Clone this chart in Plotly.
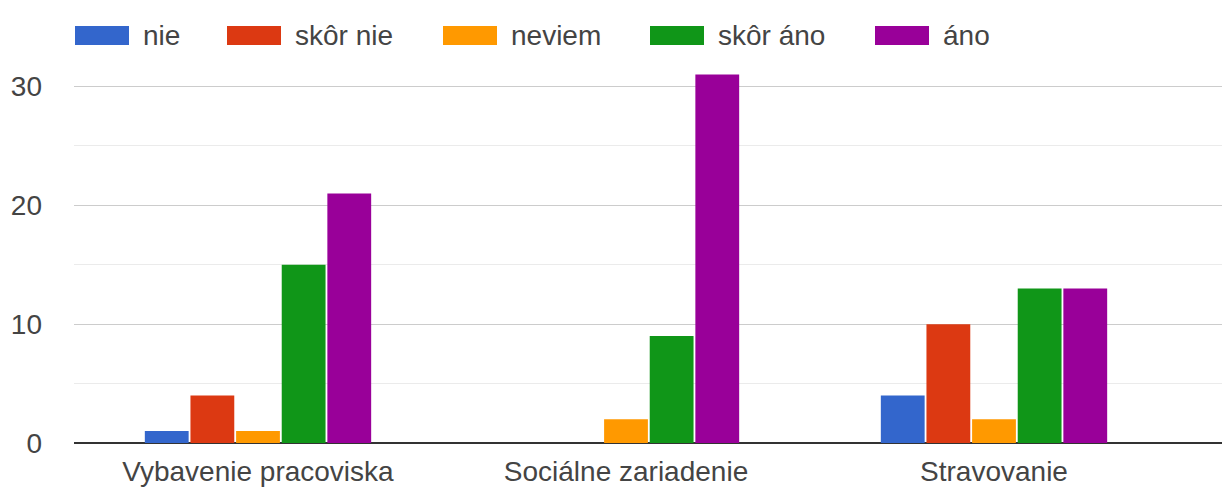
import plotly.graph_objects as go

categories = ["Vybavenie pracoviska", "Sociálne zariadenie", "Stravovanie"]
series_names = ["nie", "skôr nie", "neviem", "skôr áno", "áno"]
nie = [1, 0, 4]
skor_nie = [4, 0, 10]
neviem = [1, 2, 2]
skor_ano = [15, 9, 13]
ano = [21, 31, 13]
y_ticks = [0, 10, 20, 30]

colors = ["#3366cc", "#dc3912", "#ff9900", "#109618", "#990099"]
values = [nie, skor_nie, neviem, skor_ano, ano]

W, H = 1230, 491
OFF = 8  # page body margin
ML, MR, MT, MB = 66, 8, 18.5, 56
FONT = "Liberation Sans"
FS = 28
TXT = "#444444"

fig = go.Figure()
for name, vals, col in zip(series_names, values, colors):
    fig.add_trace(go.Bar(x=list(range(len(categories))), y=vals, name=name,
                         marker=dict(color=col, line=dict(width=0)),
                         showlegend=False))

pw = W - ML - MR
ph = H - MT - MB

def px_to_paper_x(px):
    return (px - OFF - ML) / pw

def px_to_paper_y(py):
    return (H - MB - (py - OFF)) / ph

# custom legend (Google Charts style wide swatches)
legend_x = [75, 227, 443, 650, 875]
legend_cy = 35
sw_w, sw_h = 54, 19
shapes = []
annotations = []
for lx, name, col in zip(legend_x, series_names, colors):
    shapes.append(dict(type="rect", xref="paper", yref="paper",
                       x0=px_to_paper_x(lx), x1=px_to_paper_x(lx + sw_w),
                       y0=px_to_paper_y(legend_cy + sw_h / 2), y1=px_to_paper_y(legend_cy - sw_h / 2),
                       fillcolor=col, line=dict(width=0), layer="above"))
    annotations.append(dict(text=name, xref="paper", yref="paper",
                            x=px_to_paper_x(lx + sw_w + 12), y=px_to_paper_y(legend_cy),
                            xanchor="left", yanchor="middle", showarrow=False,
                            bgcolor="white",
                            font=dict(family=FONT, size=FS, color=TXT)))

group_center_px = 994  # page px of third category centre
cat_px = 368
fig.update_layout(
    width=W, height=H,
    margin=dict(l=ML, r=MR, t=MT, b=MB, pad=0, autoexpand=False),
    paper_bgcolor="white", plot_bgcolor="white",
    barmode="group", bargap=0.38, bargroupgap=0.04,
    font=dict(family=FONT, size=FS, color=TXT),
    shapes=shapes, annotations=annotations,
    xaxis=dict(tickmode="array", tickvals=list(range(len(categories))), ticktext=categories,
               range=[-0.5, 2 + (W - group_center_px) / cat_px], showgrid=False, showline=False,
               zeroline=False, ticks="", ticklabelstandoff=9, automargin=False,
               tickfont=dict(family=FONT, size=FS, color=TXT), fixedrange=True),
    yaxis=dict(range=[0, 35], tickmode="array", tickvals=y_ticks,
               showgrid=True, gridcolor="#cccccc", gridwidth=1,
               minor=dict(dtick=5, tick0=0, showgrid=True, gridcolor="#ebebeb", gridwidth=1),
               zeroline=True, zerolinecolor="#333333", zerolinewidth=2,
               showline=False, ticks="", ticklabelstandoff=31, automargin=False,
               tickfont=dict(family=FONT, size=FS, color=TXT), fixedrange=True),
)

fig.write_html("out.html", config={"displayModeBar": False})
